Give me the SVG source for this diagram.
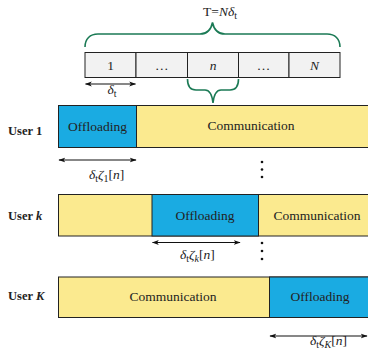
<svg xmlns="http://www.w3.org/2000/svg" width="368" height="350" viewBox="0 0 368 350">
<style>
text{font-family:"Liberation Serif","Times New Roman",serif;fill:#222}
.cell{fill:#f2f2f2;stroke:#222;stroke-width:1}
.off{fill:#1aabe2;stroke:#222;stroke-width:1}
.com{fill:#fbea8f;stroke:#222;stroke-width:1}
.lbl{font-size:13.5px;text-anchor:middle}
.user{font-size:12.5px;font-weight:bold}
.brace{fill:none;stroke:#1b7a55;stroke-width:1.6}
.arr{stroke:#111;stroke-width:1.1;marker-start:url(#ah);marker-end:url(#ah)}
.it{font-style:italic}
.sub{font-size:10px}
</style>
<defs>
<marker id="ah" viewBox="0 0 10 10" refX="9" refY="5" markerWidth="7" markerHeight="7" orient="auto-start-reverse" markerUnits="userSpaceOnUse">
<path d="M0,1.5 L10,5 L0,8.5 L2.5,5 Z" fill="#111"/>
</marker>
</defs>

<g id="timeline">
<rect class="cell" x="85" y="52.5" width="51" height="25"/>
<rect class="cell" x="136" y="52.5" width="51.5" height="25"/>
<rect class="cell" x="187.5" y="52.5" width="51" height="25"/>
<rect class="cell" x="238.5" y="52.5" width="50.5" height="25"/>
<rect class="cell" x="289" y="52.5" width="51" height="25"/>
<text class="lbl" x="110.5" y="70">1</text>
<text class="lbl" x="161.7" y="70">…</text>
<text class="lbl it" x="213" y="70">n</text>
<text class="lbl" x="263.5" y="70">…</text>
<text class="lbl it" x="314.5" y="70">N</text>
<text class="lbl" x="220" y="16">T=<tspan class="it">Nδ</tspan><tspan class="sub" dy="3">t</tspan></text>
</g>

<g id="braces">
<path class="brace" d="M85,47 C85,39 90,34 98,34 L200,34 C207,34 211,30 212.5,22.5 C214,30 218,34 225,34 L327,34 C335,34 340,39 340,47"/>
<path class="brace" d="M187.5,79 C187.5,86 190,90 196,90 L205,90 C209,90 212,94 213,103 C214,94 217,90 221,90 L230,90 C236,90 238.5,86 238.5,79"/>
</g>

<g id="user1">
<text class="user" x="8" y="135">User 1</text>
<rect class="com" x="58.5" y="105.5" width="315" height="42"/>
<rect class="off" x="58.5" y="105.5" width="78" height="42"/>
<text class="lbl" x="97.5" y="131">Offloading</text>
<text class="lbl" x="251" y="130">Communication</text>
</g>

<g id="userk">
<text class="user" x="8" y="220">User <tspan class="it">k</tspan></text>
<rect class="com" x="58.5" y="194.5" width="315" height="41.5"/>
<rect class="off" x="152" y="194.5" width="106.5" height="41.5"/>
<text class="lbl" x="205" y="220">Offloading</text>
<text class="lbl" x="317" y="220">Communication</text>
</g>

<g id="userK">
<text class="user" x="8" y="300">User <tspan class="it">K</tspan></text>
<rect class="com" x="58.5" y="277" width="315" height="40.5"/>
<rect class="off" x="269.5" y="277" width="104" height="40.5"/>
<text class="lbl" x="173" y="301">Communication</text>
<text class="lbl" x="320" y="301">Offloading</text>
</g>

<g id="connectors">
<line class="arr" x1="85.5" y1="84" x2="135.5" y2="84"/>
<line class="arr" x1="59" y1="160" x2="136" y2="160"/>
<line class="arr" x1="152.5" y1="242.5" x2="240" y2="242.5"/>
<line class="arr" x1="270" y1="336" x2="367" y2="336"/>
</g>

<g id="labels">
<text x="107.5" y="94" style="font-size:13.5px" class="it">δ<tspan class="sub" style="font-style:normal" dy="3">t</tspan></text>
<text x="89" y="179" style="font-size:13.5px" class="it">δ<tspan class="sub" style="font-style:normal" dy="3">t</tspan><tspan dy="-3">ζ</tspan><tspan class="sub" style="font-style:normal" dy="3">1</tspan><tspan style="font-style:normal" dy="-3">[</tspan>n<tspan style="font-style:normal">]</tspan></text>
<text x="180" y="259" style="font-size:13.5px" class="it">δ<tspan class="sub" style="font-style:normal" dy="3">t</tspan><tspan dy="-3">ζ</tspan><tspan class="sub" dy="3">k</tspan><tspan style="font-style:normal" dy="-3">[</tspan>n<tspan style="font-style:normal">]</tspan></text>
<text x="310" y="345" style="font-size:13.5px" class="it">δ<tspan class="sub" style="font-style:normal" dy="3">t</tspan><tspan dy="-3">ζ</tspan><tspan class="sub" dy="3">K</tspan><tspan style="font-style:normal" dy="-3">[</tspan>n<tspan style="font-style:normal">]</tspan></text>
</g>

<g id="dots" fill="#111">
<circle cx="262" cy="162" r="1.3"/>
<circle cx="262" cy="169.5" r="1.3"/>
<circle cx="262" cy="177" r="1.3"/>
<circle cx="262" cy="243" r="1.3"/>
<circle cx="262" cy="251" r="1.3"/>
<circle cx="262" cy="259" r="1.3"/>
</g>
</svg>
